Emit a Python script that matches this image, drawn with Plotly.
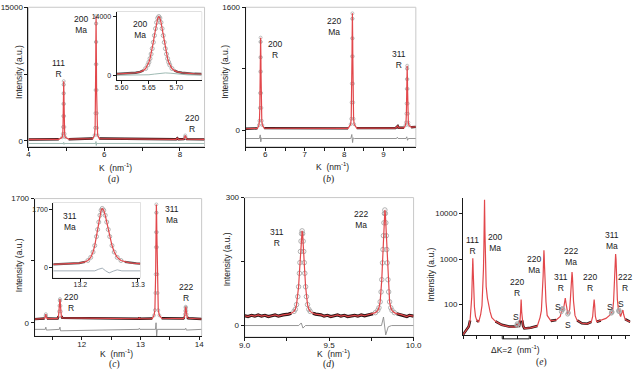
import plotly.graph_objects as go

W, H = 640, 370
FONT = "Liberation Sans, Arial, sans-serif"
INK = "#1a1a1a"
RED = "#e2474b"
OBS = "#2e1414"
PT = "#a8a8a8"
RES = "#8a8a8a"
RES_A = "#93b2aa"
FRAME = "#c8c8c8"

# ---------------- panel (a) ----------------
a_k = [4.00, 4.80, 4.89, 4.905, 4.912, 4.917, 4.921, 4.924, 4.927, 4.93, 4.933, 4.936, 4.939, 4.943,
       4.948, 4.955, 4.97, 5.06, 5.70, 5.745, 5.760, 5.767, 5.772, 5.776, 5.779, 5.782, 5.785, 5.788,
       5.791, 5.794, 5.798, 5.803, 5.810, 5.825, 5.87, 7.90, 7.93, 7.96, 8.10, 8.12, 8.13, 8.14, 8.15,
       8.16, 8.18, 8.65]
a_int = [150, 170, 389, 781, 1553, 2776, 4149, 5327, 6308, 6700, 6308, 5327, 4149, 2776,
         1553, 781, 389, 180, 250, 630, 1460, 3100, 5700, 8600, 11100, 13170, 14000, 13170,
         11100, 8600, 5700, 3100, 1460, 630, 250, 170, 300, 170, 185, 260, 400, 600, 400,
         260, 185, 160]
a_res_k = [4.00, 4.92, 4.93, 4.94, 4.95, 5.775, 5.782, 5.79, 5.80, 8.65]
a_res = [-300, -300, -180, -400, -300, -300, -80, -520, -300, -300]
a_xticks = [4, 6, 8]
a_xminor = [5, 7]
a_yticks = [0, 15000]
a_yminor = [7500]

# inset of (a)
ai_k = [5.590, 5.603, 5.616, 5.626, 5.634, 5.640, 5.644, 5.648, 5.650, 5.652, 5.654, 5.656, 5.658,
        5.660, 5.662, 5.664, 5.666, 5.668, 5.670, 5.672, 5.674, 5.676, 5.678, 5.680, 5.682, 5.684,
        5.686, 5.688, 5.692, 5.696, 5.702, 5.710, 5.720, 5.733, 5.746]
ai_int = [285, 343, 446, 595, 815, 1154, 1607, 2457, 3114, 3970, 5046, 6347, 7846,
          9478, 11122, 12584, 13620, 14000, 13620, 12584, 11122, 9478, 7846, 6347, 5046,
          3970, 3114, 2457, 1607, 1154, 815, 595, 446, 343, 285]
ai_res_k = [5.591, 5.63, 5.65, 5.66, 5.67, 5.68, 5.69, 5.70, 5.72, 5.746]
ai_res = [0, 20, 120, 280, 450, 560, 480, 300, 100, 30]
ai_xticks = [5.60, 5.65, 5.70]
ai_yticks = [0, 14000]

# ---------------- panel (b) ----------------
b_k = [5.50, 5.80, 5.835, 5.85, 5.86, 5.865, 5.87, 5.873, 5.877, 5.88, 5.883, 5.887, 5.89, 5.895, 5.90,
       5.91, 5.925, 5.97, 8.10, 8.165, 8.18, 8.19, 8.195, 8.2, 8.203, 8.207, 8.21, 8.213, 8.217, 8.22,
       8.225, 8.23, 8.24, 8.255, 8.32, 9.30, 9.34, 9.36, 9.38, 9.52, 9.555, 9.57, 9.58, 9.585, 9.59,
       9.593, 9.597, 9.60, 9.603, 9.607, 9.61, 9.615, 9.62, 9.63, 9.645, 9.70, 9.82]
b_int = [20, 25, 67, 123, 291, 484, 763, 949, 1150, 1205, 1150, 949, 763, 484, 291,
         123, 67, 28, 25, 79, 149, 362, 607, 961, 1196, 1451, 1521, 1451, 1196, 961,
         607, 362, 149, 79, 28, 28, 45, 55, 32, 32, 64, 102, 216, 348, 539,
         665, 802, 840, 802, 665, 539, 348, 216, 102, 64, 40, 45]
b_res_k = [5.50, 5.85, 5.87, 5.885, 5.90, 5.92, 8.17, 8.195, 8.215, 8.23, 8.26, 9.33, 9.35, 9.37,
           9.57, 9.59, 9.61, 9.63, 9.82]
b_res = [-107, -107, -60, -150, -100, -107, -107, -55, -160, -100, -107, -107, -90, -107,
         -107, -85, -130, -107, -107]
b_xticks = [6, 7, 8, 9]
b_xminor = [5.5, 6.5, 7.5, 8.5, 9.5]
b_yticks = [0, 1600]
b_yminor = [800]

# ---------------- panel (c) ----------------
c_k = [11.20, 11.37, 11.385, 11.39, 11.395, 11.41, 11.59, 11.606, 11.615, 11.621, 11.626, 11.63,
       11.634, 11.639, 11.645, 11.654, 11.67, 12.97, 12.98, 12.99, 13.20, 13.23, 13.245, 13.254,
       13.258, 13.262, 13.264, 13.267, 13.27, 13.274, 13.278, 13.2805, 13.2856, 13.2908, 13.3025,
       13.322, 13.36, 13.73, 13.746, 13.755, 13.761, 13.766, 13.77, 13.774, 13.779, 13.785, 13.794,
       13.81, 14.04]
c_int = [50, 58, 95, 118, 95, 58, 57, 90, 155, 233, 303, 325,
         303, 233, 155, 90, 67, 55, 72, 55, 58, 101, 173, 408,
         664, 1034, 1240, 1507, 1620, 1507, 1240, 1034, 664, 408, 173,
         101, 62, 58, 77, 116, 164, 207, 220, 207, 164, 116, 77,
         62, 52]
c_res_k = [11.2, 11.38, 11.39, 11.40, 11.62, 11.63, 11.64, 12.97, 12.98, 12.99, 13.255, 13.265,
           13.275, 13.285, 13.76, 13.77, 13.78, 14.04]
c_res = [-90, -90, -60, -100, -90, -60, -110, -90, -75, -90, -90, 0, -190, -90, -90, -75, -100, -90]
c_xticks = [12, 13, 14]
c_xminor = [11.5, 12.5, 13.5]
c_yticks = [0, 1700]
c_yminor = [850]

# inset of (c)
ci_k = [13.153, 13.168, 13.183, 13.198, 13.208, 13.213, 13.218, 13.222, 13.225, 13.228, 13.230,
        13.232, 13.234, 13.236, 13.238, 13.2406, 13.2432, 13.2458, 13.2484, 13.251, 13.2549,
        13.2588, 13.264, 13.2705, 13.277, 13.284, 13.29, 13.297, 13.304]
ci_int = [80, 87, 100, 119, 155, 195, 287, 444, 636, 900, 1109,
          1327, 1528, 1675, 1730, 1675, 1528, 1327, 1109, 900, 636,
          444, 287, 195, 155, 133, 119, 110, 102]
ci_res_k = [13.153, 13.225, 13.232, 13.238, 13.244, 13.250, 13.257, 13.264, 13.272, 13.304]
ci_res = [-110, -110, -60, -30, -110, -170, -120, -80, -110, -110]
ci_xticks = [13.2, 13.3]
ci_yticks = [0, 1700]

# ---------------- panel (d) ----------------
d_k = [9.00, 9.02, 9.04, 9.06, 9.08, 9.10, 9.12, 9.14, 9.16, 9.18, 9.20, 9.215,
       9.228, 9.26, 9.276, 9.292, 9.30, 9.3072, 9.3144, 9.3192, 9.324, 9.3272, 9.3304, 9.3336,
       9.3368, 9.34, 9.3432, 9.3464, 9.3496, 9.3528, 9.356, 9.3608, 9.3656, 9.372, 9.38, 9.388,
       9.404, 9.42, 9.452,
       9.47, 9.49, 9.51, 9.53, 9.55, 9.57, 9.59, 9.61, 9.63, 9.65, 9.67, 9.69, 9.71,
       9.732, 9.76, 9.774, 9.788, 9.795, 9.802, 9.8076, 9.8118, 9.816, 9.8188, 9.8216, 9.8244,
       9.8272, 9.83, 9.8328, 9.8356, 9.8384, 9.8412, 9.844, 9.8482, 9.8524, 9.858, 9.865, 9.872,
       9.886, 9.90, 9.928,
       9.945, 9.96, 9.975, 10.0]
d_int = [23, 21, 24, 22, 25, 22, 24, 21, 23, 25, 22, 24,
         25, 26.8, 28.9, 33.1, 38, 49.1, 67.8, 90.9, 122.5, 147.5, 173.6, 197.8,
         215.4, 222, 215.4, 197.8, 173.6, 147.5, 122.5, 90.9, 67.8, 49.1, 38, 33.1,
         28.9, 26.8, 25,
         22, 24, 21, 23, 25, 22, 24, 21, 23, 24, 22, 25, 23,
         25.5, 27.8, 30.3, 35.6, 41.7, 55.5, 78.9, 107.6, 147, 178.2, 210.7, 240.9,
         262.8, 271, 262.8, 240.9, 210.7, 178.2, 147, 107.6, 78.9, 55.5, 41.7, 35.6,
         30.3, 27.8, 25.5,
         23, 21, 24, 22]
d_res_k = [9.0, 9.32, 9.335, 9.345, 9.36, 9.81, 9.822, 9.835, 9.85, 9.87, 10.0]
d_res = [0, 0, 6, -6, 0, 0, 20, -22, -3, 0, 0]
d_xticks = [9.0, 9.5, 10.0]
d_xminor = [9.25, 9.75]
d_yticks = [0, 300]
d_yminor = [150]

# ---------------- panel (e) ----------------
e_k = [4.00, 4.20, 4.42, 4.52, 4.60, 4.64, 4.67, 4.69, 4.70, 4.71, 4.72, 4.73, 4.74, 4.75, 4.77,
       4.80, 4.84, 4.92, 5.02, 5.16, 5.30, 5.40, 5.47, 5.51, 5.54, 5.56, 5.575, 5.585, 5.59, 5.595,
       5.605, 5.62, 5.64, 5.67, 5.71, 5.80, 5.88, 6.00, 6.13, 6.40, 6.86, 7.40, 7.90, 7.95, 8.01,
       8.07, 8.15, 8.22, 8.26, 8.28, 8.30, 8.32, 8.34, 8.38, 8.45, 8.54, 9.00, 9.50, 9.70, 9.80,
       9.84, 9.89, 9.93, 9.955, 9.97, 9.98, 9.99, 10.00, 10.01, 10.025, 10.05, 10.09, 10.14, 10.23,
       10.50, 10.90, 11.20, 11.32, 11.40, 11.47, 11.52, 11.57, 11.62, 11.68, 11.75, 11.82, 11.90,
       11.96, 12.01, 12.04, 12.07, 12.10, 12.13, 12.18, 12.29, 12.45, 12.80, 13.20, 13.50, 13.60,
       13.65, 13.71, 13.75, 13.80, 13.90, 14.20, 14.58, 14.85, 15.00, 15.08, 15.15, 15.22, 15.27,
       15.30, 15.33, 15.37, 15.43, 15.50, 15.55, 15.62, 15.67, 15.75, 15.84, 15.90, 16.00, 16.20,
       16.39]
e_int = [22, 26, 33, 45, 80, 145, 300, 540, 740, 950, 1050, 950, 740, 540, 300,
         150, 90, 55, 45, 42, 60, 95, 220, 600, 1700, 4000, 9000, 16000, 20000, 16000,
         9000, 4000, 1700, 600, 250, 140, 103, 70, 52, 43, 36, 33, 32, 33, 38,
         34, 34, 45, 70, 100, 130, 100, 70, 45, 34, 30, 31, 34, 52, 74,
         116, 204, 424, 797, 1183, 1442, 1560, 1442, 1183, 797, 424, 204, 116, 58,
         44, 46, 55, 80, 78, 90, 115, 140, 110, 75, 65, 66, 80,
         150, 300, 450, 520, 420, 250, 120, 58, 45, 39, 38, 42, 55,
         85, 130, 95, 55, 42, 45, 50, 58, 70, 72, 120, 400, 1000,
         1300, 1000, 400, 130, 80, 76, 60, 55, 65, 76, 60, 48, 44,
         42]
e_s_k = [7.98, 8.01, 8.04, 11.28, 11.32, 11.36, 11.40, 11.75, 11.80, 14.98, 15.01, 15.04, 15.52, 15.55, 15.58]
e_s = [35, 38, 36, 70, 80, 82, 78, 62, 66, 65, 70, 68, 72, 76, 70]
e_yticks = [100, 1000, 10000]
dK_start, dK = 6.9, 2

# ---------------- labels ----------------
peak_labels = [  # (text, x px, y px)
    ("111<br>R", 54, 65.5), ("200<br>Ma", 76.7, 20.5), ("220<br>R", 190, 120.5),
    ("200<br>Ma", 136.7, 26),
    ("200<br>R", 275, 45.5), ("220<br>Ma", 335.7, 22.3), ("311<br>R", 401.7, 56),
    ("220<br>R", 66.7, 301.7), ("311<br>Ma", 170, 213), ("222<br>R", 184.3, 291.3),
    ("311<br>Ma", 65, 220.3),
    ("311<br>R", 276.7, 236), ("222<br>Ma", 362.7, 218),
    ("111<br>R", 476.7, 244.5), ("200<br>Ma", 500, 241), ("220<br>R", 522.3, 287),
    ("220<br>Ma", 540, 263.7), ("311<br>R", 567.3, 281.3), ("222<br>Ma", 577.7, 255),
    ("220<br>R", 596.7, 281.3), ("311<br>Ma", 619.3, 239.5), ("222<br>R", 632.7, 281.3),
]
s_labels = [(521, 316.7), (564.3, 306), (575, 324.3), (617.3, 306), (629, 303.3)]

fig = go.Figure()


def ref(n):
    return ("x", "y") if n == 1 else (f"x{n}", f"y{n}")


def prof(xs, ys, n, thr, msize=3.0, lw=2.4, obs=OBS, red_w=1.2, mw=0.7):
    xa, ya = ref(n)
    base = [y if y <= thr else None for y in ys]
    fig.add_trace(go.Scatter(x=xs, y=base, xaxis=xa, yaxis=ya, mode="lines", connectgaps=False,
                             line=dict(color=obs, width=lw), hoverinfo="skip"))
    mx = [x for x, y in zip(xs, ys) if y > thr]
    my = [y for y in ys if y > thr]
    if mx and msize > 0:
        fig.add_trace(go.Scatter(x=mx, y=my, xaxis=xa, yaxis=ya, mode="markers",
                                 marker=dict(symbol="circle-open", size=msize, color=PT,
                                             line=dict(width=mw, color=PT)), hoverinfo="skip"))
    fig.add_trace(go.Scatter(x=xs, y=ys, xaxis=xa, yaxis=ya, mode="lines",
                             line=dict(color=RED, width=red_w), hoverinfo="skip"))


def resid(xs, ys, n, color=RES):
    xa, ya = ref(n)
    fig.add_trace(go.Scatter(x=xs, y=ys, xaxis=xa, yaxis=ya, mode="lines",
                             line=dict(color=color, width=0.9), hoverinfo="skip"))


prof(a_k, a_int, 1, 300)
resid(a_res_k, a_res, 1, RES_A)
prof(ai_k, ai_int, 2, 1200, msize=4, lw=2.4, obs="#555555", mw=0.9)
resid(ai_res_k, ai_res, 2, RES_A)
prof(b_k, b_int, 3, 60)
resid(b_res_k, b_res, 3)
prof(c_k, c_int, 4, 90)
resid(c_res_k, c_res, 4)
prof(ci_k, ci_int, 5, 160, msize=4, lw=2.4, obs="#555555", mw=0.9)
resid(ci_res_k, ci_res, 5, "#9aa6b0")
prof(d_k, d_int, 6, 30, msize=4.5, lw=3.2, mw=0.9)
resid(d_res_k, d_res, 6)
prof(e_k, e_int, 7, 48, lw=2.6, msize=0)
fig.add_trace(go.Scatter(x=e_s_k, y=e_s, xaxis="x7", yaxis="y7", mode="markers",
                         marker=dict(symbol="circle-open", size=4, color=PT), hoverinfo="skip"))


def fx(p):
    return p / W


def fy(p):
    return 1 - p / H


def axes(n, xpx, ypx, xr, yr, xticks=None, xtext=None, yticks=None, ytext=None,
         xminor=None, yminor=None, ylog=False, fs=8, frame=True, xlab=True, xdt=None):
    xk = "xaxis" if n == 1 else f"xaxis{n}"
    yk = "yaxis" if n == 1 else f"yaxis{n}"
    xa, ya = ref(n)
    common = dict(showline=True, linecolor=INK, linewidth=1, ticks="outside", ticklen=3,
                  tickwidth=1, tickcolor=INK, showgrid=False, zeroline=False,
                  tickfont=dict(family=FONT, size=fs, color=INK))
    xd = dict(common, domain=[fx(xpx[0]), fx(xpx[1])], range=xr, anchor=ya,
              ticklabelstandoff=-3)
    if xticks is not None:
        xd.update(tickmode="array", tickvals=xticks, ticktext=xtext or [str(t) for t in xticks])
    if xdt is not None:
        xd.update(tickmode="linear", tick0=xr[0], dtick=xdt)
    if not xlab:
        xd.update(showticklabels=False)
    if xminor:
        xd["minor"] = dict(tickmode="array", tickvals=xminor, ticks="outside", ticklen=3,
                           tickcolor=INK, showgrid=False)
    yd = dict(common, domain=[fy(ypx[1]), fy(ypx[0])], range=yr, anchor=xa)
    if ylog:
        yd["type"] = "log"
    if yticks is not None:
        yd.update(tickmode="array", tickvals=yticks, ticktext=ytext or [str(t) for t in yticks])
    if yminor:
        yd["minor"] = dict(tickmode="array", tickvals=yminor, ticks="outside", ticklen=3,
                           tickcolor=INK, showgrid=False)
    fig.layout[xk] = xd
    fig.layout[yk] = yd
    if frame:
        fig.add_shape(type="rect", xref=f"{xa} domain", yref=f"{ya} domain", x0=0, x1=1,
                      y0=0, y1=1, line=dict(color=FRAME, width=1), layer="below")


axes(1, (23, 203), (3.3, 144.3), [4.0, 8.65], [-667, 15000], a_xticks, None, a_yticks, None,
     a_xminor, a_yminor)
axes(2, (113, 200), (8, 77), [5.591, 5.746], [-1170, 15100], ai_xticks,
     [f"{t:.2f}" for t in ai_xticks], ai_yticks, None, fs=7)
axes(3, (245, 419), (3.3, 144.3), [5.5, 9.82], [-214, 1600], b_xticks, None, b_yticks, None,
     b_xminor, b_yminor)
axes(4, (29.3, 200), (196.7, 336), [11.2, 14.04], [-186, 1700], c_xticks, None, c_yticks, None,
     c_xminor, c_yminor)
axes(5, (48.3, 137.3), (200.7, 276.7), [13.153, 13.304], [-312, 1904], ci_xticks,
     [f"{t:.1f}" for t in ci_xticks], ci_yticks, None, fs=7)
axes(6, (244, 416.7), (195.7, 336.7), [9.0, 10.0], [-27, 300], d_xticks,
     [f"{t:.1f}" for t in d_xticks], d_yticks, None, d_xminor, d_yminor)
axes(7, (467.3, 638.3), (196, 335), [4.0, 16.39], [1.325, 4.345], None, None, e_yticks, None,
     ylog=True, frame=False, xlab=False, xdt=1)

ann = []


def txt(t, x, y, size=8.5, angle=0, family=FONT):
    ann.append(dict(text=t, x=fx(x), y=fy(y), xref="paper", yref="paper", showarrow=False,
                    xanchor="center", yanchor="middle", textangle=angle,
                    font=dict(family=family, size=size, color=INK)))


for t, x, y in peak_labels:
    txt(t, x, y)
for x, y in s_labels:
    txt("S", x, y)
for x, y in [(14, 69), (224, 68.5), (13.3, 264), (226, 258), (435, 273)]:
    txt("Intensity (a.u.)", x, y, angle=-90)
for x, y in [(111.7, 165), (333.3, 164.5), (113.3, 353), (335, 353.5)]:
    txt("K  (nm<sup>-1</sup>)", x, y)
for t, x, y in [("a", 110, 177.5), ("b", 330, 177), ("c", 111, 364.5), ("d", 330, 364.5),
                ("e", 547, 362.5)]:
    txt(f"(<i>{t}</i>)", x, y, size=9.5, family="Liberation Serif, Times New Roman, serif")
txt("ΔK=2  (nm<sup>-1</sup>)", 520.7, 349)

fig.add_shape(type="path", xref="x7", yref="paper",
              path=(f"M {dK_start},{fy(335.5)} L {dK_start},{fy(338.5)} "
                    f"L {dK_start + dK},{fy(338.5)} L {dK_start + dK},{fy(335.5)}"),
              line=dict(color=INK, width=1))

fig.update_layout(width=W, height=H, margin=dict(l=0, r=0, t=0, b=0),
                  paper_bgcolor="white", plot_bgcolor="white", showlegend=False,
                  annotations=ann, font=dict(family=FONT, color=INK))
fig.write_html("out.html", config={"displayModeBar": False},
               post_script="document.body.style.margin='0';document.body.style.padding='0';"
                           "document.body.style.overflow='hidden';")
